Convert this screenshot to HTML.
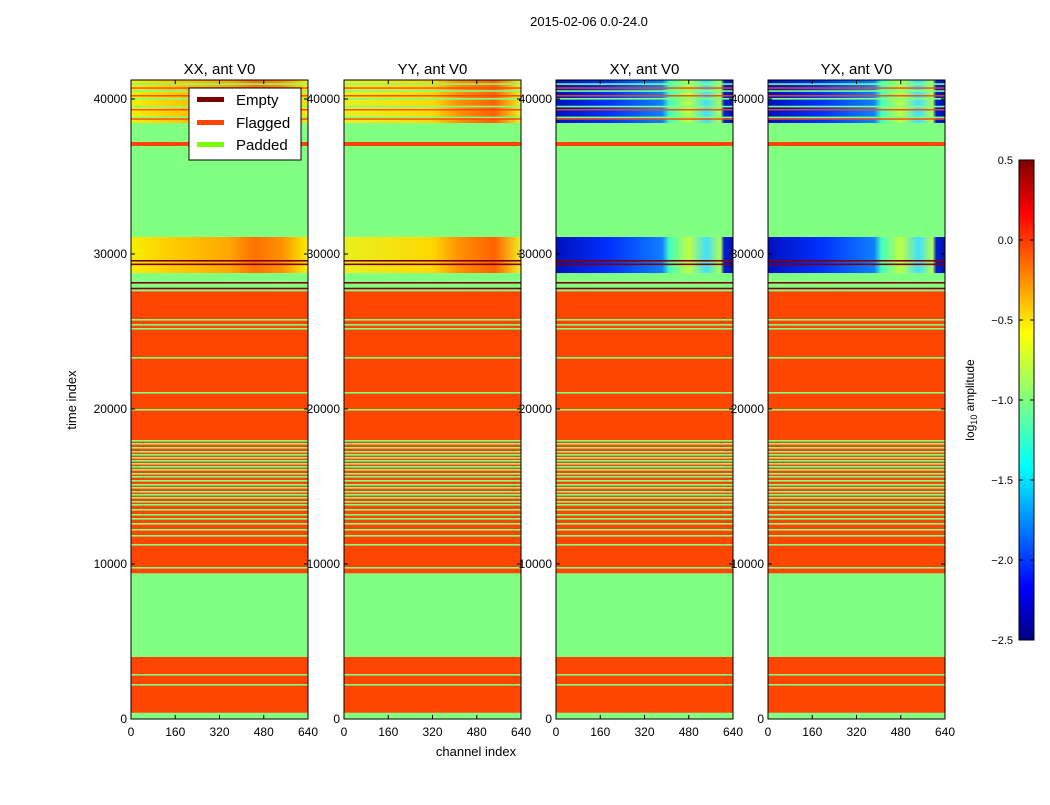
<!DOCTYPE html>
<html><head><meta charset="utf-8"><style>
body{margin:0;background:#fff;font-family:"Liberation Sans","DejaVu Sans",sans-serif}
svg text{font-family:"Liberation Sans","DejaVu Sans",sans-serif}
</style></head><body>
<svg id="fig" width="1050" height="800" xmlns="http://www.w3.org/2000/svg">
<defs>
<linearGradient id="gXX" x1="0" x2="1" y1="0" y2="0"><stop offset="0" stop-color="#f4f000"/><stop offset="0.2" stop-color="#ffd000"/><stop offset="0.55" stop-color="#ffa800"/><stop offset="0.7" stop-color="#ff7000"/><stop offset="0.85" stop-color="#ff9000"/><stop offset="1" stop-color="#f8f000"/></linearGradient>
<linearGradient id="gYY" x1="0" x2="1" y1="0" y2="0"><stop offset="0" stop-color="#e8f020"/><stop offset="0.5" stop-color="#ffd800"/><stop offset="0.65" stop-color="#ff9000"/><stop offset="0.85" stop-color="#ff6000"/><stop offset="1" stop-color="#f0f020"/></linearGradient>
<linearGradient id="gXY" x1="0" x2="1" y1="0" y2="0"><stop offset="0" stop-color="#0010c0"/><stop offset="0.3" stop-color="#0030ff"/><stop offset="0.6" stop-color="#1080ff"/><stop offset="0.64" stop-color="#40ffc0"/><stop offset="0.75" stop-color="#c0ff40"/><stop offset="0.85" stop-color="#40e0ff"/><stop offset="0.93" stop-color="#b0ff50"/><stop offset="0.95" stop-color="#0020d0"/><stop offset="1" stop-color="#0010b0"/></linearGradient>
<linearGradient id="gCB" x1="0" x2="0" y1="1" y2="0"><stop offset="0" stop-color="#00007f"/><stop offset="0.11" stop-color="#0000ff"/><stop offset="0.36" stop-color="#00ffff"/><stop offset="0.5" stop-color="#80ff80"/><stop offset="0.64" stop-color="#ffff00"/><stop offset="0.89" stop-color="#ff0000"/><stop offset="1" stop-color="#7f0000"/></linearGradient>
</defs>
<text x="589" y="26" font-size="13" text-anchor="middle">2015-02-06 0.0-24.0</text>
<g id="panels"></g>
<text x="476" y="756" font-size="13" text-anchor="middle">channel index</text>
<text transform="translate(76,400) rotate(-90)" font-size="13" text-anchor="middle">time index</text>
<g>
<rect x="189" y="88" width="112" height="72" fill="#fff" stroke="#000" stroke-width="1"/>
<rect x="197" y="97" width="27" height="5" fill="#800000"/><text x="236" y="105" font-size="15">Empty</text>
<rect x="197" y="120" width="27" height="5" fill="#ff4500"/><text x="236" y="128" font-size="15">Flagged</text>
<rect x="197" y="142" width="27" height="5" fill="#7cfc00"/><text x="236" y="150" font-size="15">Padded</text>
</g>
<g id="cbar">
<rect x="1019" y="160" width="15" height="480" fill="url(#gCB)" stroke="#000"/>
</g>
<text transform="translate(974,400) rotate(-90)" font-size="12" text-anchor="middle">log<tspan font-size="9" dy="3">10</tspan><tspan dy="-3"> amplitude</tspan></text>
</svg>
<script>
const panelTitles=["XX, ant V0","YY, ant V0","XY, ant V0","YX, ant V0"];
const panelFill=["url(#gXX)","url(#gYY)","url(#gXY)","url(#gXY)"];
const xTicks=[0,160,320,480,640];
const yTicks=[0,10000,20000,30000,40000];
const cbTicks=[0.5,0.0,-0.5,-1.0,-1.5,-2.0,-2.5];
// bands: [startTime, endTime, type]
const bands=[[0,400,"pad"],[400,4000,"flag"],[4000,9400,"pad"],[9400,27600,"flag"],[27600,28300,"pad"],[28300,28770,"pad"],[28770,31100,"data"],[31100,36970,"pad"],[36970,37230,"flag"],[37230,38450,"pad"],[38450,41226,"data"]];
const padLines=[2194,2839,9742,11226,11806,12194,12581,12903,13161,13484,13806,14000,14258,14452,14645,14903,15097,15355,15613,15806,16065,16258,16452,16645,16839,17032,17226,17484,17742,17935,19935,21032,23290,25161,25419,25742,38800,39500,40000,40500,40950];
const emptyLines=[27760,28130,29320,29550];
const flagLines=[38700,39300,40200,40700];
const lefts=[131,344,556,768];
const W=177,T0=0,T1=41226,Y0=719,Y1=80;
const NS="http://www.w3.org/2000/svg";
function yS(t){return Y0-(t-T0)/(T1-T0)*(Y0-Y1);}
function xS(c,l){return l+c/640*W;}
function mk(tag,a,p){const e=document.createElementNS(NS,tag);for(const k in a)e.setAttribute(k,a[k]);p.appendChild(e);return e;}
const colors={pad:"#80ff80",flag:"#ff4500"};
const root=document.getElementById("panels");
lefts.forEach((l,i)=>{
  const g=mk("g",{},root);
  
  
  bands.forEach(b=>{
    const r=mk("rect",{x:l,y:yS(b[1]),width:W,height:yS(b[0])-yS(b[1]),fill:b[2]=="data"?panelFill[i]:colors[b[2]]},g);
    
    
  });
  padLines.forEach(t=>{const r=mk("rect",{x:l,y:yS(t)-1,width:W,height:1.6,fill:"#80ff80"},g);
    
    });
  emptyLines.forEach(t=>{const r=mk("rect",{x:l,y:yS(t)-1,width:W,height:1.6,fill:"#800000"},g);
    
    });
  flagLines.forEach(t=>{const r=mk("rect",{x:l,y:yS(t)-0.8,width:W,height:1.4,fill:"#ff4500"},g);
    
    });
  mk("rect",{x:l,y:Y1,width:W,height:Y0-Y1,fill:"none",stroke:"#000","stroke-width":1},g);
  const tt=mk("text",{x:l+W/2,y:74,"font-size":15,"text-anchor":"middle"},g);tt.textContent=panelTitles[i];
  
  
  xTicks.forEach(c=>{const x=xS(c,l);
    mk("line",{x1:x,x2:x,y1:Y0,y2:Y0-4,stroke:"#000"},g);mk("line",{x1:x,x2:x,y1:Y1,y2:Y1+4,stroke:"#000"},g);
    const t=mk("text",{x:x,y:736,"font-size":12,"text-anchor":"middle"},g);t.textContent=c;
    
    });
  yTicks.forEach(v=>{const y=yS(v);
    mk("line",{x1:l,x2:l+4,y1:y,y2:y,stroke:"#000"},g);mk("line",{x1:l+W,x2:l+W-4,y1:y,y2:y,stroke:"#000"},g);
    const t=mk("text",{x:l-4,y:y+4,"font-size":12,"text-anchor":"end"},g);t.textContent=v;
    
    });
});
const cb=document.getElementById("cbar");
cbTicks.forEach(v=>{const y=160+(0.5-v)/3*480;
  mk("line",{x1:1019,x2:1023,y1:y,y2:y,stroke:"#000"},cb);mk("line",{x1:1034,x2:1030,y1:y,y2:y,stroke:"#000"},cb);
  const t=mk("text",{x:1013,y:y+4,"font-size":11,"text-anchor":"end"},cb);t.textContent=v.toFixed(1).replace("-","−");
  
  });
</script>
</body></html>
